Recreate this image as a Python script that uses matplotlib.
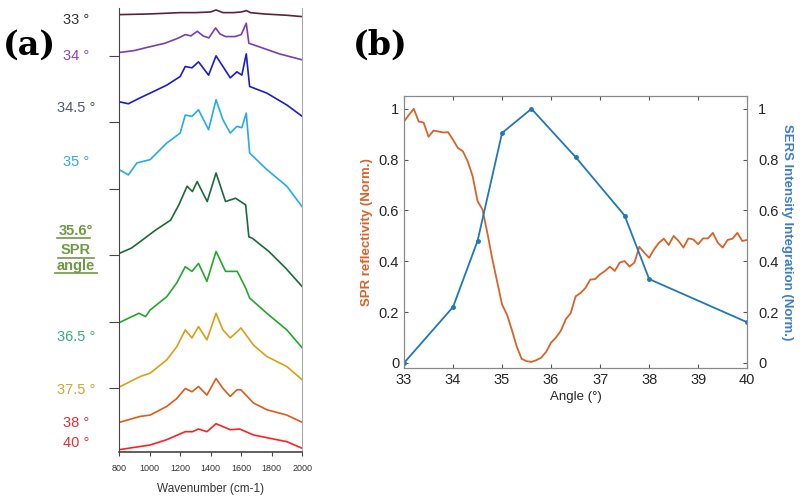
import matplotlib
matplotlib.use('Agg')
import matplotlib.pyplot as plt
from matplotlib.lines import Line2D

plt.rcParams['font.family'] = ['Liberation Sans', 'DejaVu Sans']

# ---- panel (a): stacked SERS spectra (arbitrary offset units) ----
wn_33 = [800, 1000, 1100, 1200, 1300, 1400, 1435, 1480, 1550, 1600, 1635, 1660, 1750, 1900, 2000]
in_33 = [6.62, 6.63, 6.64, 6.65, 6.65, 6.66, 6.69, 6.65, 6.65, 6.66, 6.68, 6.65, 6.63, 6.61, 6.59]

wn_34 = [800, 900, 970, 1100, 1191, 1233, 1270, 1312, 1350, 1388, 1432, 1460, 1497, 1560, 1600, 1633, 1650, 1738, 1850, 2000]
in_34 = [6.05, 6.08, 6.12, 6.19, 6.27, 6.32, 6.30, 6.37, 6.30, 6.27, 6.42, 6.33, 6.29, 6.29, 6.32, 6.49, 6.19, 6.12, 6.03, 5.94]

wn_345 = [800, 860, 938, 1003, 1112, 1200, 1233, 1277, 1320, 1386, 1435, 1480, 1528, 1572, 1604, 1633, 1655, 1768, 1900, 2000]
in_345 = [5.31, 5.28, 5.37, 5.44, 5.56, 5.69, 5.84, 5.82, 5.91, 5.71, 6.00, 5.84, 5.67, 5.76, 5.71, 6.03, 5.54, 5.44, 5.26, 5.09]

wn_35 = [800, 860, 916, 1003, 1112, 1200, 1233, 1277, 1320, 1386, 1435, 1480, 1528, 1572, 1604, 1633, 1655, 1768, 1899, 2000]
in_35 = [4.29, 4.21, 4.39, 4.44, 4.69, 4.84, 5.11, 5.09, 5.19, 4.89, 5.34, 5.04, 4.84, 4.94, 4.92, 5.14, 4.54, 4.29, 4.04, 3.73]

wn_356 = [800, 880, 951, 1038, 1137, 1191, 1245, 1280, 1311, 1377, 1435, 1497, 1563, 1629, 1650, 1672, 1781, 1891, 2000]
in_356 = [3.03, 3.11, 3.23, 3.38, 3.53, 3.76, 4.04, 3.96, 4.11, 3.81, 4.24, 3.81, 3.86, 3.76, 3.28, 3.26, 3.06, 2.81, 2.53]

wn_365 = [800, 929, 973, 1003, 1112, 1178, 1233, 1277, 1320, 1375, 1435, 1497, 1574, 1629, 1655, 1768, 1899, 2000]
in_365 = [1.99, 2.13, 2.08, 2.18, 2.38, 2.59, 2.83, 2.76, 2.88, 2.61, 3.06, 2.76, 2.76, 2.51, 2.36, 2.13, 1.88, 1.61]

wn_375 = [800, 938, 1003, 1112, 1178, 1233, 1277, 1320, 1375, 1435, 1480, 1528, 1572, 1598, 1681, 1768, 1899, 2000]
in_375 = [1.02, 1.18, 1.23, 1.43, 1.63, 1.88, 1.76, 1.93, 1.73, 2.13, 1.88, 1.76, 1.85, 1.91, 1.65, 1.48, 1.33, 1.13]

wn_38 = [800, 938, 1003, 1112, 1178, 1233, 1277, 1320, 1375, 1435, 1480, 1528, 1572, 1598, 1681, 1768, 1899, 2000]
in_38 = [0.49, 0.58, 0.60, 0.73, 0.85, 1.00, 0.95, 1.03, 0.90, 1.15, 1.00, 0.88, 0.98, 0.98, 0.78, 0.68, 0.60, 0.49]

wn_40 = [800, 1003, 1112, 1233, 1280, 1320, 1375, 1435, 1528, 1590, 1681, 1899, 2000]
in_40 = [0.08, 0.15, 0.23, 0.35, 0.35, 0.39, 0.35, 0.47, 0.38, 0.39, 0.30, 0.20, 0.10]

spectra = [(wn_33, in_33), (wn_34, in_34), (wn_345, in_345), (wn_35, in_35), (wn_356, in_356),
           (wn_365, in_365), (wn_375, in_375), (wn_38, in_38), (wn_40, in_40)]
line_colors = ['#5a2438', '#7a3cb0', '#1c1cc8', '#25aaee', '#1b6a3a',
               '#22a82a', '#d9a014', '#e05a18', '#ff2020']

angle_labels = ['33 °', '34 °', '34.5 °', '35 °', '36.5 °', '37.5 °', '38 °', '40 °']
label_colors = ['#333333', '#8a44b8', '#505a70', '#30a8e8', '#30b27a', '#d4a436', '#e03038', '#e03038']
label_y = [0.960, 0.888, 0.783, 0.675, 0.323, 0.217, 0.151, 0.110]

# ---- panel (b) ----
spr_angle = [33.0, 33.1, 33.2, 33.3, 33.4, 33.5, 33.6, 33.7, 33.8, 33.9,
             34.0, 34.1, 34.2, 34.3, 34.4, 34.5, 34.6, 34.7, 34.8, 34.9,
             35.0, 35.1, 35.2, 35.3, 35.4, 35.5, 35.6, 35.7, 35.8, 35.9,
             36.0, 36.1, 36.2, 36.3, 36.4, 36.5, 36.6, 36.7, 36.8, 36.9,
             37.0, 37.1, 37.2, 37.3, 37.4, 37.5, 37.6, 37.7, 37.8, 37.9,
             38.0, 38.1, 38.2, 38.3, 38.4, 38.5, 38.6, 38.7, 38.8, 38.9,
             39.0, 39.1, 39.2, 39.3, 39.4, 39.5, 39.6, 39.7, 39.8, 39.9, 40.0]
spr_refl = [0.95, 0.976, 1.0, 0.95, 0.946, 0.89, 0.914, 0.911, 0.907, 0.908,
            0.878, 0.846, 0.833, 0.793, 0.735, 0.637, 0.604, 0.512, 0.41, 0.32,
            0.23, 0.19, 0.13, 0.064, 0.016, 0.007, 0.004, 0.011, 0.021, 0.044,
            0.08, 0.10, 0.127, 0.172, 0.196, 0.262, 0.275, 0.295, 0.328, 0.33,
            0.349, 0.362, 0.379, 0.362, 0.395, 0.401, 0.379, 0.395, 0.457, 0.434,
            0.414, 0.447, 0.473, 0.489, 0.464, 0.50, 0.48, 0.454, 0.49, 0.486,
            0.467, 0.49, 0.49, 0.512, 0.473, 0.454, 0.484, 0.489, 0.512, 0.48, 0.484]

sers_angle = [33, 34, 34.5, 35, 35.6, 36.5, 37.5, 38, 40]
sers_int = [0.0, 0.22, 0.48, 0.905, 1.0, 0.81, 0.58, 0.33, 0.16]

fig = plt.figure(figsize=(8, 4.98), dpi=100)

# panel (a)
ax1 = fig.add_axes([0.149, 0.0924, 0.2288, 0.8916])
for (wn, inten), c in zip(spectra, line_colors):
    ax1.plot(wn, inten, color=c, lw=1.2)
ax1.set_xlim(800, 2000)
ax1.set_ylim(0.045, 6.72)
ax1.set_xticks(range(800, 2001, 200))
ax1.set_yticks(range(1, 7))
ax1.set_yticklabels([])
ax1.spines['top'].set_visible(False)
ax1.spines['right'].set_color('#aaaaaa')
ax1.spines['left'].set_color('#444444')
ax1.spines['bottom'].set_color('#444444')
ax1.spines['bottom'].set_linewidth(1.2)
ax1.tick_params(axis='y', direction='out', length=7, color='#444444')
ax1.tick_params(axis='x', direction='out', length=3, labelsize=6.5, pad=6,
                color='#444444', labelcolor='#333333')
ax1.set_xlabel('Wavenumber (cm-1)', fontsize=8.5, color='#333333', labelpad=7)

for txt, c, y in zip(angle_labels, label_colors, label_y):
    fig.text(0.095, y, txt, color=c, fontsize=10.5, ha='center', va='center')

spr_col = '#6e9a44'
for txt, y, x0, x1, yl in [('35.6°', 0.536, 0.071, 0.112, 0.522),
                           ('SPR', 0.497, 0.073, 0.118, 0.481),
                           ('angle', 0.465, 0.069, 0.121, 0.451)]:
    fig.text(0.095, y, txt, color=spr_col, fontsize=10.5, fontweight='bold',
             ha='center', va='center')
    fig.add_artist(Line2D([x0, x1], [yl, yl], color=spr_col, lw=1.2))

fig.text(0.004, 0.91, '(a)', fontsize=24, fontweight='bold', family='DejaVu Serif',
         va='center', ha='left')
fig.text(0.441, 0.91, '(b)', fontsize=24, fontweight='bold', family='DejaVu Serif',
         va='center', ha='left')

# panel (b)
ax2 = fig.add_axes([0.505, 0.261, 0.429, 0.546])
ax2.plot(spr_angle, spr_refl, color='#d9622b', lw=1.3)
ax2.set_xlim(33, 40)
ax2.set_ylim(-0.02, 1.05)
ax2.set_xticks(range(33, 41))
ax2.set_yticks([0, 0.2, 0.4, 0.6, 0.8, 1])
ax2.set_yticklabels(['0', '0.2', '0.4', '0.6', '0.8', '1'])
ax2.tick_params(direction='in', length=3, top=True, labelsize=10.5,
                color='#555555', labelcolor='#262626')
ax2.set_xlabel('Angle (°)', fontsize=9.5, color='#262626', labelpad=3)
ax2.set_ylabel('SPR reflectivity (Norm.)', fontsize=9.5, fontweight='bold',
               color='#d9622b', labelpad=4)

ax3 = ax2.twinx()
ax3.plot(sers_angle, sers_int, color='#1f78b8', lw=1.3, marker='o', ms=2.5)
ax3.set_ylim(-0.02, 1.05)
ax3.set_yticks([0, 0.2, 0.4, 0.6, 0.8, 1])
ax3.set_yticklabels(['0', '0.2', '0.4', '0.6', '0.8', '1'])
ax3.tick_params(direction='in', length=3, labelsize=10.5, color='#555555',
                labelcolor='#262626', pad=8)
ax3.set_ylabel('SERS Intensity Integration (Norm.)', fontsize=9.5, fontweight='bold',
               color='#3d7cc9', rotation=270, labelpad=10)
for ax in (ax2, ax3):
    for s in ax.spines.values():
        s.set_color('#888888')

fig.savefig('out.png', dpi=100)
